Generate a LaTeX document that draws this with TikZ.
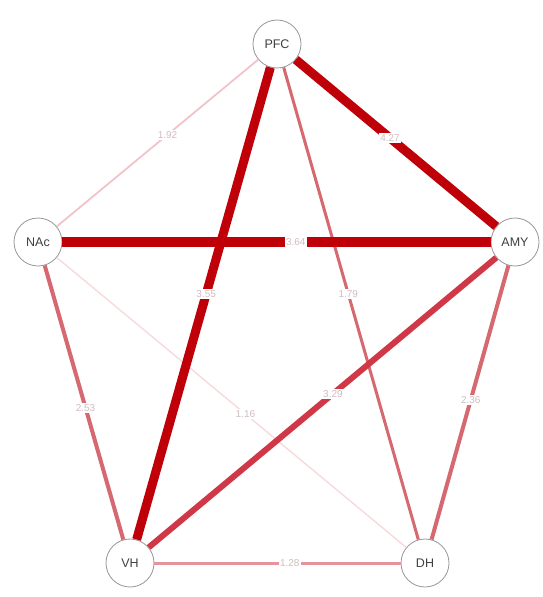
\documentclass[tikz,border=0pt]{standalone}
\usepackage{fontspec}
\setmainfont{Liberation Sans}
\usepackage{tikz}
\usetikzlibrary{positioning,calc}
\usepackage{xcolor}
\definecolor{wstrong}{RGB}{192,0,8}
\definecolor{wmidhi}{RGB}{208,56,72}
\definecolor{wmid}{RGB}{214,104,112}
\definecolor{wlow}{RGB}{226,150,156}
\definecolor{wfaint}{RGB}{240,196,200}
\definecolor{wfaintest}{RGB}{246,218,220}
\definecolor{ringgray}{RGB}{150,150,150}
\definecolor{lbltext}{RGB}{210,188,192}

\begin{document}
\begin{tikzpicture}[x=1pt,y=-1pt,
  region/.style={draw=ringgray, circle, fill=white, minimum size=48pt, inner sep=0pt, font=\fontsize{12.5}{12.5}\selectfont, text=black!75, line width=0.8pt},
  edge/.style={line cap=butt},
  wlbl/.style={font=\fontsize{10}{10}\selectfont, text=lbltext, fill=white, inner sep=1.5pt},
]
  \useasboundingbox (0,0) rectangle (543,597);

  \node[region] (pfc) at (277,44) {PFC};
  \node[region] (nac) at (38,242) {NAc};
  \node[region] (amy) at (515,242) {AMY};
  \node[region] (vh) at (130,563) {VH};
  \node[region] (dh) at (425,563) {DH};

  % weaker edges first, strongest on top
  \draw[edge, wfaintest, line width=1.4pt] (nac) -- node[wlbl, pos=0.54] {1.16} (dh);
  \draw[edge, wfaint, line width=1.8pt] (pfc) -- node[wlbl, pos=0.45] {1.92} (nac);
  \draw[edge, wlow, line width=3pt] (vh) -- node[wlbl, pos=0.55] {1.28} (dh);
  \draw[edge, wmid, line width=3pt] (pfc) -- node[wlbl, pos=0.48] {1.79} (dh);
  \draw[edge, wmid, line width=4pt] (nac) -- node[wlbl, pos=0.52] {2.53} (vh);
  \draw[edge, wmid, line width=4pt] (amy) -- node[wlbl, pos=0.49] {2.36} (dh);
  \draw[edge, wmidhi, line width=6pt] (vh) -- node[wlbl, pos=0.53] {3.29} (amy);
  \draw[edge, wstrong, line width=9pt] (pfc) -- node[wlbl, pos=0.47] {4.27} (amy);
  \draw[edge, wstrong, line width=10pt] (nac) -- node[wlbl, pos=0.545] {3.64} (amy);
  \draw[edge, wstrong, line width=9pt] (pfc) -- node[wlbl, pos=0.48] {3.55} (vh);
\end{tikzpicture}
\end{document}
